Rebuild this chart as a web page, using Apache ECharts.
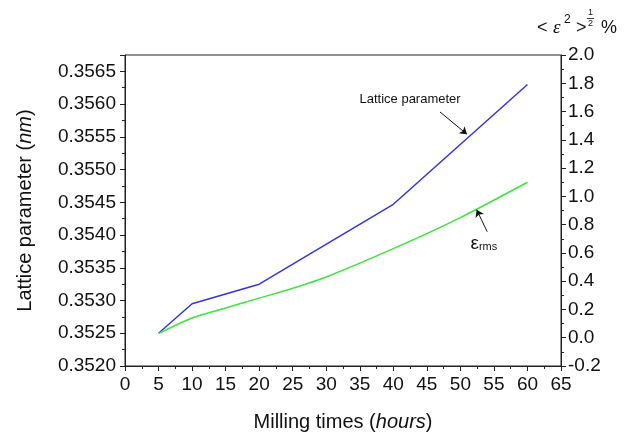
<!DOCTYPE html>
<html>
<head>
<meta charset="utf-8">
<script src="https://cdn.jsdelivr.net/npm/echarts@6/dist/echarts.min.js"></script>
<style>
html,body{margin:0;padding:0;background:#fff;}
#c{width:628px;height:437px;}
</style>
</head>
<body>
<div id="c"></div>
<script>
// ---- data ----
const latticeTimes = [5, 10, 20, 40, 60];
const latticeValues = [0.3525, 0.35295, 0.35325, 0.35447, 0.3563];
const strainTimes = [5, 10, 15, 20, 25, 30, 40, 50, 60];
const strainValues = [0.03, 0.14, 0.21, 0.28, 0.35, 0.43, 0.63, 0.85, 1.10];
const xTicks = [0, 5, 10, 15, 20, 25, 30, 35, 40, 45, 50, 55, 60, 65];
const leftTickLabels = ['0.3520','0.3525','0.3530','0.3535','0.3540','0.3545','0.3550','0.3555','0.3560','0.3565'];
const rightTickLabels = ['-0.2','0.0','0.2','0.4','0.6','0.8','1.0','1.2','1.4','1.6','1.8','2.0'];
// annotation anchors (data coordinates)
const latticeArrow = [[46.96, 0.35588], [50.98, 0.35554]];
const latticeLabel = [42.5, 0.356075];
const strainArrow = [[54.0, 0.75], [52.43, 0.905]];
const strainLabel = [53.5, 0.665];

const FONT = "'Liberation Sans', Arial, sans-serif";
const AXC = '#222';

const chart = echarts.init(document.getElementById('c'), null, {renderer: 'canvas'});

const axisCommon = {
  axisTick: {show: true, inside: false, length: 5, lineStyle: {color: AXC}},
  minorTick: {show: true, splitNumber: 2, length: 3, lineStyle: {color: AXC}},
  splitLine: {show: false},
  minorSplitLine: {show: false}
};

chart.setOption({
  animation: false,
  backgroundColor: '#fff',
  grid: {left: 125, right: 67, top: 55, bottom: 64, show: true, borderColor: AXC, borderWidth: 1, backgroundColor: 'transparent'},
  xAxis: Object.assign({
    type: 'value', min: xTicks[0], max: xTicks[xTicks.length - 1], interval: 5,
    axisLine: {show: true, onZero: false, lineStyle: {color: AXC, width: 1}},
    name: '{a|Milling times (}{i|hours}{a|)}',
    nameLocation: 'middle', nameGap: 46,
    nameTextStyle: {rich: {
      a: {fontFamily: FONT, fontSize: 20, color: '#111'},
      i: {fontFamily: FONT, fontSize: 20, color: '#111', fontStyle: 'italic'}
    }},
    axisLabel: {fontFamily: FONT, fontSize: 19, color: '#111', margin: 9,
      formatter: v => xTicks.indexOf(Math.round(v)) >= 0 ? String(Math.round(v)) : ''}
  }, axisCommon),
  yAxis: [
    Object.assign({
      type: 'value', min: 0.352, max: 0.35675, interval: 0.0005, position: 'left',
      axisLine: {show: true, onZero: false, lineStyle: {color: AXC, width: 1}},
      name: '{a|Lattice parameter (}{i|nm}{a|)}',
      nameLocation: 'middle', nameGap: 90, nameRotate: 90,
      nameTextStyle: {rich: {
        a: {fontFamily: FONT, fontSize: 20, color: '#111'},
        i: {fontFamily: FONT, fontSize: 20, color: '#111', fontStyle: 'italic'}
      }},
      axisLabel: {fontFamily: FONT, fontSize: 19, color: '#111', margin: 9,
        formatter: v => { const s = v.toFixed(4); return leftTickLabels.indexOf(s) >= 0 && Math.abs(v - parseFloat(s)) < 1e-7 ? s : ''; }}
    }, axisCommon),
    Object.assign({
      type: 'value', min: -0.2, max: 2.0, interval: 0.2, position: 'right',
      axisLine: {show: true, onZero: false, lineStyle: {color: AXC, width: 1}},
      axisLabel: {fontFamily: FONT, fontSize: 19, color: '#111', margin: 7,
        formatter: v => { const s = (Math.abs(v) < 1e-9 ? 0 : v).toFixed(1); return rightTickLabels.indexOf(s) >= 0 ? s : ''; }}
    }, axisCommon)
  ],
  graphic: [
    {type: 'group', left: 537, top: 8, children: [
      {type: 'text', x: 0, y: 12, style: {text: '<', font: '18px ' + FONT, fill: '#111'}},
      {type: 'text', x: 16, y: 11, style: {text: 'ε', font: 'italic 19px serif', fill: '#111'}},
      {type: 'text', x: 27, y: 7, style: {text: '2', font: '12px ' + FONT, fill: '#111'}},
      {type: 'text', x: 39, y: 12, style: {text: '>', font: '18px ' + FONT, fill: '#111'}},
      {type: 'text', x: 51, y: 1, style: {text: '1', font: '9px ' + FONT, fill: '#111'}},
      {type: 'line', shape: {x1: 50, y1: 11.5, x2: 57, y2: 11.5}, style: {stroke: '#111', lineWidth: 0.8}},
      {type: 'text', x: 51, y: 12, style: {text: '2', font: '9px ' + FONT, fill: '#111'}},
      {type: 'text', x: 64, y: 12, style: {text: '%', font: '18px ' + FONT, fill: '#111'}}
    ]}
  ],
  series: [
    {
      type: 'line', name: 'Lattice parameter', xAxisIndex: 0, yAxisIndex: 0,
      data: latticeTimes.map((t, i) => [t, latticeValues[i]]),
      showSymbol: false, symbol: 'none',
      lineStyle: {color: '#3434e6', width: 1.5},
      markLine: {
        silent: true, symbol: ['none', 'arrow'], symbolSize: 7,
        lineStyle: {color: '#111', width: 1, type: 'solid'}, label: {show: false},
        data: [[{coord: latticeArrow[0]}, {coord: latticeArrow[1]}]]
      },
      markPoint: {
        silent: true, symbol: 'circle', symbolSize: 0,
        label: {show: true, position: 'inside', formatter: 'Lattice parameter', fontFamily: FONT, fontSize: 13, color: '#111'},
        data: [{coord: latticeLabel}]
      }
    },
    {
      type: 'line', name: 'strain', xAxisIndex: 0, yAxisIndex: 1,
      data: strainTimes.map((t, i) => [t, strainValues[i]]),
      showSymbol: false, symbol: 'none', smooth: 0.25,
      lineStyle: {color: '#3ce63c', width: 1.5},
      markLine: {
        silent: true, symbol: ['none', 'arrow'], symbolSize: 7,
        lineStyle: {color: '#111', width: 1, type: 'solid'}, label: {show: false},
        data: [[{coord: strainArrow[0]}, {coord: strainArrow[1]}]]
      },
      markPoint: {
        silent: true, symbol: 'circle', symbolSize: 0,
        label: {show: true, position: 'inside', formatter: '{e|ε}{r|rms}',
          rich: {e: {fontFamily: FONT, fontSize: 19, color: '#111'}, r: {fontFamily: FONT, fontSize: 11, color: '#111', padding: [6, 0, 0, 0]}}},
        data: [{coord: strainLabel}]
      }
    }
  ]
});
</script>
</body>
</html>
